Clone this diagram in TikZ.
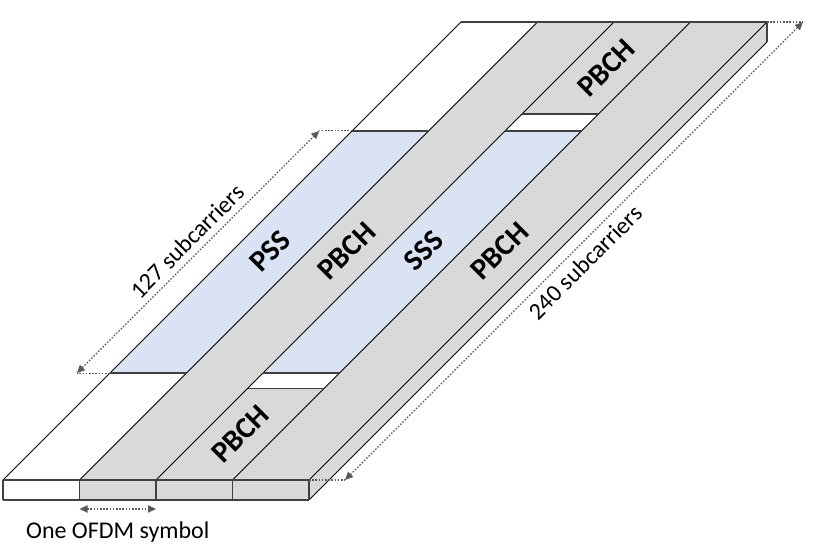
\documentclass[tikz,border=0pt]{standalone}
\usepackage{fontspec}
\setmainfont{Carlito}
\usetikzlibrary{arrows.meta,positioning}
\definecolor{pbchgray}{HTML}{D9D9D9}
\definecolor{ssblue}{HTML}{DAE3F3}
\definecolor{rimgray}{HTML}{404040}
\definecolor{dimgray}{HTML}{595959}

\begin{document}
\begin{tikzpicture}[x={(38.25pt,0pt)}, y={(0.954pt,0.954pt)}, z={(0pt,-10pt)},
    slant/.style={black, line width=0.5pt},
    rim/.style={rimgray, line width=0.9pt},
    dimline/.style={dimgray, line width=0.6pt, dash pattern=on 0.8pt off 0.8pt},
    dimarrow/.style={dimline, {Triangle[length=4pt,width=3.6pt]}-{Triangle[length=4pt,width=3.6pt]}},
    chan/.style={font=\fontsize{15}{18}\selectfont\bfseries, rotate=45},
    dimtext/.style={font=\fontsize{12}{14}\selectfont, text=black, inner sep=2pt}]
    \useasboundingbox (canvas cs:x=-1.5pt,y=-33pt) rectangle (canvas cs:x=407.5pt,y=240pt);

    % top face, one strip per OFDM symbol
    \fill[white]    (0,0) -- (1,0) -- (1,240) -- (0,240) -- cycle;
    \fill[ssblue]   (0,56) -- (1,56) -- (1,183) -- (0,183) -- cycle;
    \fill[pbchgray] (1,0) -- (2,0) -- (2,240) -- (1,240) -- cycle;
    \fill[pbchgray] (2,0) -- (3,0) -- (3,48) -- (2,48) -- cycle;
    \fill[ssblue]   (2,56) -- (3,56) -- (3,183) -- (2,183) -- cycle;
    \fill[pbchgray] (2,192) -- (3,192) -- (3,240) -- (2,240) -- cycle;
    \fill[pbchgray] (3,0) -- (4,0) -- (4,240) -- (3,240) -- cycle;

    % front and side faces
    \fill[white]    (0,0,0) -- (1,0,0) -- (1,0,1) -- (0,0,1) -- cycle;
    \fill[pbchgray] (1,0,0) -- (4,0,0) -- (4,0,1) -- (1,0,1) -- cycle;
    \fill[pbchgray] (4,0,0) -- (4,240,0) -- (4,240,1) -- (4,0,1) -- cycle;

    \foreach \col in {0,...,4}
      \draw[slant] (\col,0) -- (\col,240);
    \draw[slant] (4,0,1) -- (4,240,1);

    \draw[rim] (0,240) -- (4,240);
    \draw[rim] (0,0) -- (4,0);
    \draw[rim] (0,0,1) -- (4,0,1);
    \foreach \col in {0,...,4}
      \draw[rim] (\col,0,0) -- (\col,0,1);
    \draw[rim] (4,240,0) -- (4,240,1);
    \draw[rim] (0,56) -- (1,56) (0,183) -- (1,183);
    \draw[rim] (2,48) -- (3,48) (2,56) -- (3,56);
    \draw[rim] (2,183) -- (3,183) (2,192) -- (3,192);

    \node[chan] (pss)     at (0.5,120) {PSS};
    \node[chan] (pbchA)   at (1.5,120) {PBCH};
    \node[chan] (sss)     at (2.5,120) {SSS};
    \node[chan] (pbchB)   at (3.5,120) {PBCH};
    \node[chan] (pbchtop) at (2.5,216) {PBCH};
    \node[chan] (pbchbot) at (2.5,24) {PBCH};

    % 127 subcarriers
    \coordinate (pssbot) at (0,56);
    \coordinate (psstop) at (0,183);
    \coordinate (dimA) at ([xshift=-16.5pt]pssbot);
    \coordinate (dimB) at ([xshift=-16.5pt]psstop);
    \draw[dimline] (pssbot) -- (dimA);
    \draw[dimline] (psstop) -- (dimB);
    \draw[dimarrow] (dimA) -- node[dimtext, midway, sloped, above=1pt] (lblpss) {127 subcarriers} (dimB);

    % 240 subcarriers
    \coordinate (slabbot) at (4,0);
    \coordinate (slabtop) at (4,240);
    \coordinate (dimC) at ([xshift=18pt]slabbot);
    \coordinate (dimD) at ([xshift=18pt]slabtop);
    \draw[dimline] (slabbot) -- (dimC);
    \draw[dimline] (slabtop) -- (dimD);
    \draw[dimarrow] (dimC) -- node[dimtext, midway, sloped, below=1.5pt] (lblslab) {240 subcarriers} (dimD);

    % one OFDM symbol
    \coordinate (symL) at ([yshift=-4.5pt]1,0,1);
    \coordinate (symR) at ([yshift=-4.5pt]2,0,1);
    \draw[dimarrow] (symL) -- node[dimtext, midway, below=4pt] (lblsym) {One OFDM symbol} (symR);
\end{tikzpicture}
\end{document}
